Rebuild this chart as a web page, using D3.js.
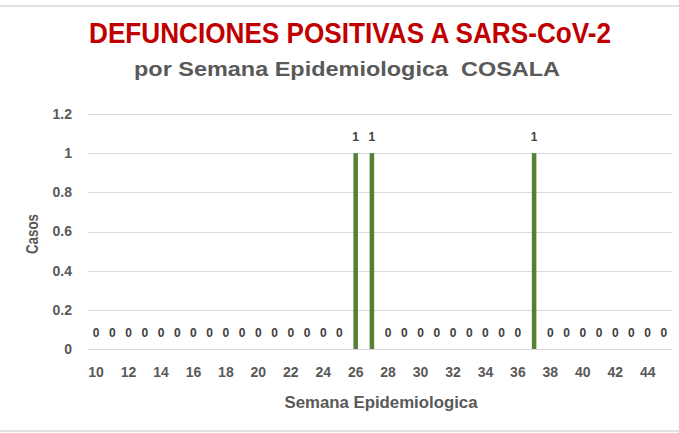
<!DOCTYPE html>
<html>
<head>
<meta charset="utf-8">
<script src="https://cdn.jsdelivr.net/npm/d3@7"></script>
<style>
  html, body { margin: 0; padding: 0; background: #fff; }
  svg { display: block; }
  text { font-family: "Liberation Sans Narrow", "Liberation Sans", "Open Sans", sans-serif; white-space: pre; }
</style>
</head>
<body>
<svg id="chart" width="679" height="433"></svg>
<script>
// Epidemiological weeks and confirmed SARS-CoV-2 deaths per week (Cosalá)
const weeks = d3.range(10, 46);
const deaths = [
  0, 0, 0, 0, 0, 0, 0, 0, 0, 0, 0, 0, 0, 0, 0, 0, // 10–25
  1, 1,                                           // 26–27
  0, 0, 0, 0, 0, 0, 0, 0, 0,                      // 28–36
  1,                                              // 37
  0, 0, 0, 0, 0, 0, 0, 0                          // 38–45
];
const yTicks = [0, 0.2, 0.4, 0.6, 0.8, 1, 1.2];
const xTickLabels = weeks.filter(w => w % 2 === 0);

const titleText = "DEFUNCIONES POSITIVAS A SARS-CoV-2";
const subtitleText = "por Semana Epidemiologica  COSALA";
const xAxisTitle = "Semana Epidemiologica";
const yAxisTitle = "Casos";

const svg = d3.select("#chart");
const W = 679, H = 433;
const plot = { left: 88, right: 672, top: 114, bottom: 349 };

// chart-area border lines
svg.append("line").attr("x1", 0).attr("x2", W).attr("y1", 6).attr("y2", 6)
  .attr("stroke", "#d9d9d9").attr("stroke-width", 1.5);
svg.append("line").attr("x1", 0).attr("x2", W).attr("y1", 431).attr("y2", 431)
  .attr("stroke", "#d9d9d9").attr("stroke-width", 1.5);

const x = d3.scaleBand().domain(weeks).range([plot.left, plot.right]).paddingInner(0.72).paddingOuter(0.36);
const y = d3.scaleLinear().domain([0, 1.2]).range([plot.bottom, plot.top]);

// horizontal gridlines
svg.append("g").selectAll("line").data(yTicks).join("line")
  .attr("x1", plot.left).attr("x2", plot.right)
  .attr("y1", d => Math.round(y(d)) + 0.5).attr("y2", d => Math.round(y(d)) + 0.5)
  .attr("stroke", "#d9d9d9").attr("stroke-width", 1);

// y axis labels
const yAxis = d3.axisLeft(y).tickValues(yTicks).tickSize(0).tickPadding(0)
  .tickFormat(d => d3.format("")(+d.toFixed(1)));
const gy = svg.append("g").attr("transform", `translate(${72},0)`).call(yAxis);
gy.select(".domain").remove();
gy.selectAll("text")
  .attr("fill", "#595959").attr("font-size", 14).attr("font-weight", "bold")
  .style("font-family", "'Liberation Sans', sans-serif");

// x axis labels (every other week)
const xAxis = d3.axisBottom(x).tickValues(xTickLabels).tickSize(0).tickPadding(0);
const gx = svg.append("g").attr("transform", `translate(0,${367})`).call(xAxis);
gx.select(".domain").remove();
gx.selectAll("text")
  .attr("fill", "#595959").attr("font-size", 14).attr("font-weight", "bold")
  .style("font-family", "'Liberation Sans', sans-serif");

// bars
const data = weeks.map((w, i) => ({ week: w, value: deaths[i] }));
svg.append("g").selectAll("rect").data(data).join("rect")
  .attr("x", d => x(d.week))
  .attr("width", x.bandwidth())
  .attr("y", d => y(d.value))
  .attr("height", d => y(0) - y(d.value))
  .attr("fill", "#548235");

// data labels
svg.append("g").selectAll("text").data(data).join("text")
  .attr("x", d => x(d.week) + x.bandwidth() / 2)
  .attr("y", d => y(d.value) - 12)
  .attr("text-anchor", "middle")
  .attr("font-size", 12).attr("font-weight", "bold").attr("fill", "#404040")
  .style("font-family", "'Liberation Sans', sans-serif")
  .text(d => d.value);

// titles
svg.append("text").attr("x", 350).attr("y", 43).attr("text-anchor", "middle")
  .attr("font-size", 29).attr("font-weight", "bold").attr("fill", "#c00000")
  .attr("textLength", 522).attr("lengthAdjust", "spacingAndGlyphs")
  .text(titleText);
svg.append("text").attr("x", 347).attr("y", 76).attr("text-anchor", "middle")
  .attr("font-size", 21).attr("font-weight", "bold").attr("fill", "#595959")
  .attr("textLength", 426).attr("lengthAdjust", "spacingAndGlyphs")
  .text(subtitleText);

// axis titles
svg.append("text").attr("x", 381).attr("y", 408).attr("text-anchor", "middle")
  .attr("font-size", 16).attr("font-weight", "bold").attr("fill", "#595959")
  .attr("textLength", 193).attr("lengthAdjust", "spacingAndGlyphs")
  .text(xAxisTitle);
svg.append("text")
  .attr("transform", `translate(38,${234}) rotate(-90)`)
  .attr("text-anchor", "middle")
  .attr("font-size", 16).attr("font-weight", "bold").attr("fill", "#595959")
  .attr("textLength", 40).attr("lengthAdjust", "spacingAndGlyphs")
  .text(yAxisTitle);
</script>
</body>
</html>
